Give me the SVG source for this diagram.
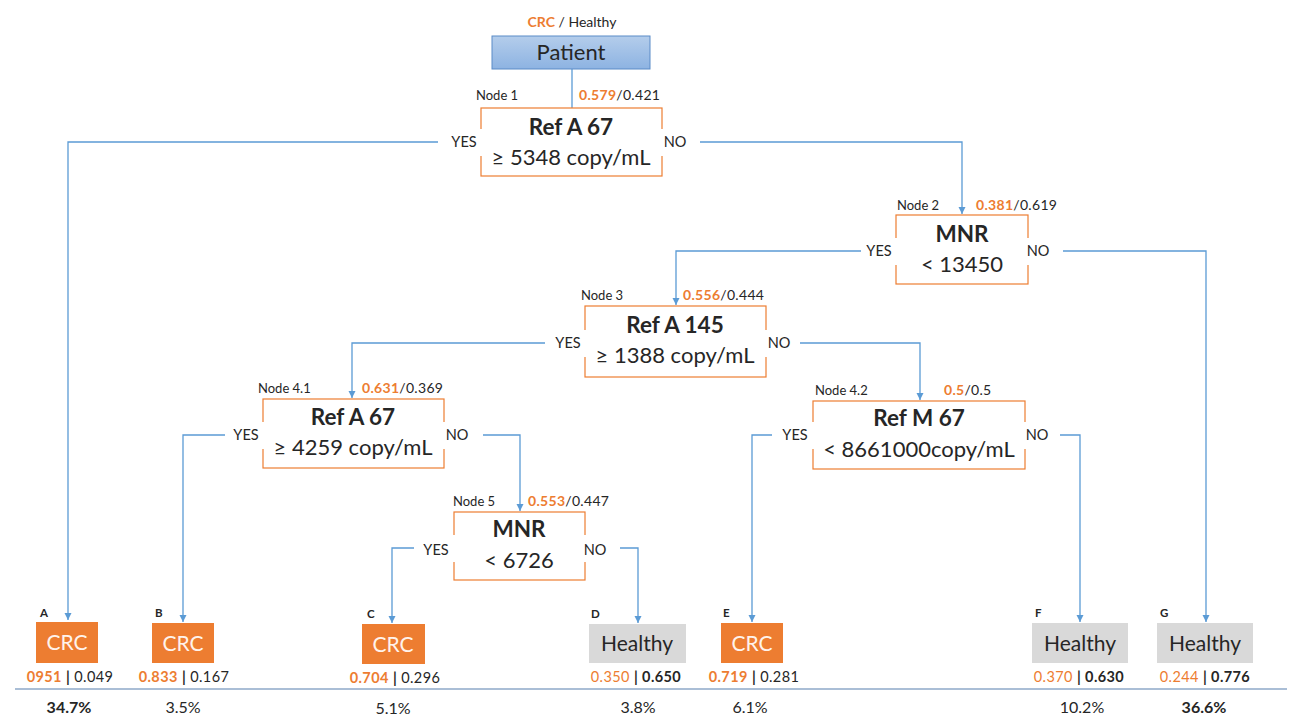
<svg xmlns="http://www.w3.org/2000/svg" width="1290" height="720" viewBox="0 0 1290 720">
<defs>
<style>
text{font-family:Lato,"Open Sans","Liberation Sans",sans-serif;fill:#262626}
.or{fill:#ED7D31}
.b{font-weight:bold}
.sm{font-size:13px}
.num{font-size:14px;letter-spacing:0.3px}
.yn{font-size:14.5px;text-anchor:middle}
.t1{font-size:22.5px;font-weight:bold;text-anchor:middle}
.t2{font-size:22px;text-anchor:middle}
.nb{fill:#fff;stroke:#ED7D31;stroke-width:1.2}
.wb{fill:#fff;stroke:none}
.crc{fill:#ED7D31}
.hl{fill:#D9D9D9}
.lt{font-size:21px;text-anchor:middle}
.val{font-size:14.5px;letter-spacing:0.4px;text-anchor:middle}
.pct{font-size:16px;text-anchor:middle}
.lbl{font-size:11.5px;font-weight:bold}
.c{fill:none;stroke:#5B9BD5;stroke-width:1.3}
</style>
<linearGradient id="pg" x1="0" y1="0" x2="0" y2="1">
<stop offset="0" stop-color="#B4CDEB"/>
<stop offset="1" stop-color="#8DB3E2"/>
</linearGradient>
<marker id="ar" markerWidth="8" markerHeight="8" refX="7" refY="4" orient="auto" markerUnits="userSpaceOnUse">
<path d="M0,0.5 L7,4 L0,7.5 Z" fill="#5B9BD5"/>
</marker>
</defs>
<rect width="1290" height="720" fill="#fff"/>

<g id="connectors">
<path class="c" d="M572 69 V108"/>
<path class="c" d="M438 142 H68 V620" marker-end="url(#ar)"/>
<path class="c" d="M700 142 H962 V214" marker-end="url(#ar)"/>
<path class="c" d="M861 251 H676 V305" marker-end="url(#ar)"/>
<path class="c" d="M1063 251 H1206 V622" marker-end="url(#ar)"/>
<path class="c" d="M545 343 H352 V398" marker-end="url(#ar)"/>
<path class="c" d="M800 343 H920 V400" marker-end="url(#ar)"/>
<path class="c" d="M225 435 H183 V622" marker-end="url(#ar)"/>
<path class="c" d="M483 435 H520 V511" marker-end="url(#ar)"/>
<path class="c" d="M414 548 H392 V623" marker-end="url(#ar)"/>
<path class="c" d="M620 548 H638 V623" marker-end="url(#ar)"/>
<path class="c" d="M772 435 H752 V622" marker-end="url(#ar)"/>
<path class="c" d="M1060 435 H1080 V622" marker-end="url(#ar)"/>
<path d="M15 689 H1287" stroke="#8EA9C8" stroke-width="1.3" fill="none"/>
</g>

<g id="header">
<text x="572" y="27" font-size="14" text-anchor="middle"><tspan class="or b">CRC</tspan> / Healthy</text>
</g>

<g id="patient">
<rect x="492" y="36" width="158" height="33" fill="url(#pg)" stroke="#5B8BC7" stroke-width="1"/>
<text x="571" y="60" font-size="22" text-anchor="middle" fill="#1F2A3A">Patient</text>
</g>

<g id="node1">
<rect class="nb" x="481" y="108" width="181" height="68"/>
<rect class="wb" x="446" y="129" width="37" height="27"/>
<rect class="wb" x="660" y="129" width="30" height="27"/>
<text class="sm" x="476" y="100">Node 1</text>
<text class="num" x="579" y="100"><tspan class="or b">0.579</tspan>/0.421</text>
<text class="t1" x="571" y="135">Ref A 67</text>
<text class="t2" x="571" y="165">≥ 5348 copy/mL</text>
<text class="yn" x="464" y="147">YES</text>
<text class="yn" x="675" y="147">NO</text>
</g>

<g id="node2">
<rect class="nb" x="896" y="215" width="132" height="69"/>
<rect class="wb" x="862" y="238" width="36" height="27"/>
<rect class="wb" x="1026" y="238" width="30" height="27"/>
<text class="sm" x="897" y="210">Node 2</text>
<text class="num" x="976" y="210"><tspan class="or b">0.381</tspan>/0.619</text>
<text class="t1" x="962" y="242">MNR</text>
<text class="t2" x="962" y="272">&lt; 13450</text>
<text class="yn" x="879" y="256">YES</text>
<text class="yn" x="1038" y="256">NO</text>
</g>

<g id="node3">
<rect class="nb" x="585" y="306" width="181" height="71"/>
<rect class="wb" x="550" y="330" width="37" height="27"/>
<rect class="wb" x="764" y="330" width="30" height="27"/>
<text class="sm" x="581" y="300">Node 3</text>
<text class="num" x="683" y="300"><tspan class="or b">0.556</tspan>/0.444</text>
<text class="t1" x="675" y="333">Ref A 145</text>
<text class="t2" x="675" y="363">≥ 1388 copy/mL</text>
<text class="yn" x="568" y="348">YES</text>
<text class="yn" x="779" y="348">NO</text>
</g>

<g id="node4-1">
<rect class="nb" x="263" y="399" width="181" height="69"/>
<rect class="wb" x="228" y="422" width="37" height="27"/>
<rect class="wb" x="442" y="422" width="30" height="27"/>
<text class="sm" x="258" y="393">Node 4.1</text>
<text class="num" x="362" y="393"><tspan class="or b">0.631</tspan>/0.369</text>
<text class="t1" x="353" y="425">Ref A 67</text>
<text class="t2" x="353" y="455">≥ 4259 copy/mL</text>
<text class="yn" x="246" y="440">YES</text>
<text class="yn" x="457" y="440">NO</text>
</g>

<g id="node4-2">
<rect class="nb" x="813" y="401" width="212" height="68"/>
<rect class="wb" x="777" y="422" width="38" height="27"/>
<rect class="wb" x="1023" y="422" width="30" height="27"/>
<text class="sm" x="815" y="395">Node 4.2</text>
<text class="num" x="944" y="395"><tspan class="or b">0.5</tspan>/0.5</text>
<text class="t1" x="919" y="426">Ref M 67</text>
<text class="t2" x="919" y="457">&lt; 8661000copy/mL</text>
<text class="yn" x="795" y="440">YES</text>
<text class="yn" x="1037" y="440">NO</text>
</g>

<g id="node5">
<rect class="nb" x="454" y="512" width="131" height="68"/>
<rect class="wb" x="418" y="535" width="38" height="27"/>
<rect class="wb" x="583" y="535" width="30" height="27"/>
<text class="sm" x="453" y="506">Node 5</text>
<text class="num" x="528" y="506"><tspan class="or b">0.553</tspan>/0.447</text>
<text class="t1" x="519" y="537">MNR</text>
<text class="t2" x="519" y="568">&lt; 6726</text>
<text class="yn" x="436" y="555">YES</text>
<text class="yn" x="595" y="555">NO</text>
</g>

<g id="leafA">
<text class="lbl" x="40" y="617">A</text>
<rect class="crc" x="36" y="622" width="62" height="41"/>
<text class="lt" x="67" y="650" style="fill:#FFF3EC">CRC</text>
<text class="val" x="70" y="682"><tspan class="or b">0951</tspan> <tspan class="b">|</tspan> 0.049</text>
<text class="pct b" x="69" y="713">34.7%</text>
</g>

<g id="leafB">
<text class="lbl" x="155" y="617">B</text>
<rect class="crc" x="152" y="623" width="62" height="40"/>
<text class="lt" x="183" y="651" style="fill:#FFF3EC">CRC</text>
<text class="val" x="184" y="682"><tspan class="or b">0.833</tspan> <tspan class="b">|</tspan> 0.167</text>
<text class="pct" x="183" y="713">3.5%</text>
</g>

<g id="leafC">
<text class="lbl" x="367" y="618">C</text>
<rect class="crc" x="362" y="624" width="63" height="40"/>
<text class="lt" x="393" y="652" style="fill:#FFF3EC">CRC</text>
<text class="val" x="395" y="683"><tspan class="or b">0.704</tspan> <tspan class="b">|</tspan> 0.296</text>
<text class="pct" x="393" y="714">5.1%</text>
</g>

<g id="leafD">
<text class="lbl" x="591" y="618">D</text>
<rect class="hl" x="589" y="624" width="97" height="39"/>
<text class="lt" x="637" y="651">Healthy</text>
<text class="val" x="636" y="682"><tspan class="or">0.350</tspan> <tspan class="b">| 0.650</tspan></text>
<text class="pct" x="638" y="713">3.8%</text>
</g>

<g id="leafE">
<text class="lbl" x="723" y="617">E</text>
<rect class="crc" x="721" y="623" width="62" height="40"/>
<text class="lt" x="752" y="651" style="fill:#FFF3EC">CRC</text>
<text class="val" x="754" y="682"><tspan class="or b">0.719</tspan> <tspan class="b">|</tspan> 0.281</text>
<text class="pct" x="750" y="713">6.1%</text>
</g>

<g id="leafF">
<text class="lbl" x="1035" y="617">F</text>
<rect class="hl" x="1032" y="623" width="96" height="40"/>
<text class="lt" x="1080" y="651">Healthy</text>
<text class="val" x="1079" y="682"><tspan class="or">0.370</tspan> <tspan class="b">| 0.630</tspan></text>
<text class="pct" x="1082" y="713">10.2%</text>
</g>

<g id="leafG">
<text class="lbl" x="1160" y="617">G</text>
<rect class="hl" x="1157" y="623" width="96" height="40"/>
<text class="lt" x="1205" y="651">Healthy</text>
<text class="val" x="1205" y="682"><tspan class="or">0.244</tspan> <tspan class="b">| 0.776</tspan></text>
<text class="pct b" x="1204" y="713">36.6%</text>
</g>
</svg>
